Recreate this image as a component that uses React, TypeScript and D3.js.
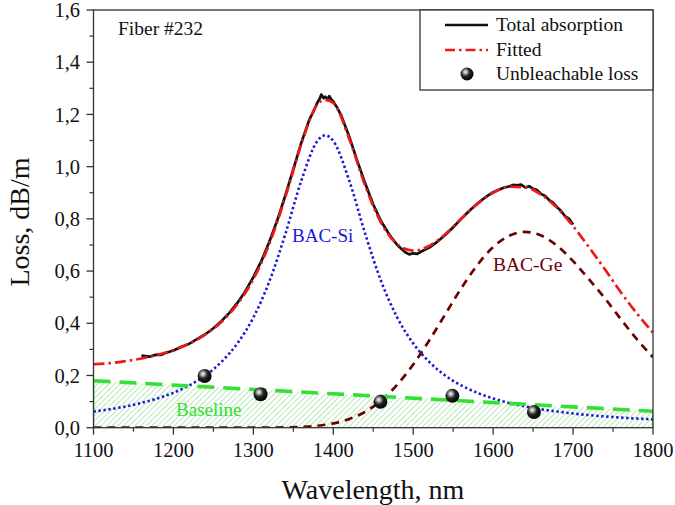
import React from "react";
import * as d3 from "d3";

// ---- data ----
const siWl = [1100, 1120, 1140, 1160, 1180, 1200, 1220, 1240, 1260, 1280, 1300, 1320, 1340, 1360, 1380, 1390, 1400, 1420, 1440, 1460, 1480, 1500, 1520, 1540, 1560, 1580, 1600, 1620, 1640, 1660, 1680, 1700, 1720, 1740, 1760, 1780, 1800];
const siValues = [0.062, 0.0705, 0.0814, 0.095, 0.112, 0.134, 0.162, 0.2, 0.252, 0.323, 0.422, 0.56, 0.742, 0.946, 1.098, 1.12, 1.098, 0.946, 0.742, 0.56, 0.422, 0.323, 0.252, 0.2, 0.162, 0.134, 0.112, 0.095, 0.0814, 0.0705, 0.062, 0.0543, 0.0482, 0.0431, 0.0387, 0.035, 0.0317];

const geWl = [1100, 1140, 1180, 1220, 1260, 1300, 1320, 1340, 1360, 1380, 1400, 1420, 1440, 1460, 1480, 1500, 1520, 1540, 1560, 1580, 1600, 1620, 1640, 1660, 1680, 1700, 1720, 1740, 1760, 1780, 1800];
const geValues = [0, 0, 0, 0, 0, 0.0001, 0.0004, 0.0011, 0.0031, 0.0075, 0.0165, 0.0332, 0.0612, 0.104, 0.165, 0.242, 0.334, 0.434, 0.534, 0.622, 0.692, 0.735, 0.75, 0.736, 0.697, 0.638, 0.568, 0.495, 0.415, 0.338, 0.27];

const fitWl = [1100, 1120, 1140, 1160, 1180, 1200, 1220, 1240, 1260, 1280, 1300, 1320, 1340, 1360, 1380, 1390, 1400, 1420, 1440, 1460, 1480, 1500, 1520, 1540, 1560, 1580, 1600, 1620, 1640, 1660, 1680, 1700, 1720, 1740, 1760, 1780, 1800];
const fitValues = [0.243, 0.247, 0.255, 0.265, 0.279, 0.297, 0.322, 0.357, 0.405, 0.473, 0.569, 0.704, 0.883, 1.086, 1.238, 1.256, 1.244, 1.106, 0.926, 0.784, 0.703, 0.678, 0.696, 0.741, 0.8, 0.856, 0.9, 0.923, 0.921, 0.893, 0.842, 0.772, 0.691, 0.606, 0.518, 0.437, 0.364];

const totalWl = [1160, 1165, 1170, 1175, 1180, 1185, 1190, 1200, 1210, 1220, 1230, 1240, 1250, 1260, 1270, 1280, 1290, 1300, 1310, 1320, 1330, 1340, 1350, 1360, 1370, 1375, 1380, 1383, 1385, 1388, 1390, 1393, 1395, 1398, 1400, 1405, 1410, 1420, 1430, 1440, 1450, 1460, 1470, 1480, 1490, 1495, 1500, 1505, 1510, 1520, 1530, 1540, 1550, 1560, 1570, 1580, 1590, 1600, 1610, 1615, 1620, 1625, 1630, 1635, 1640, 1645, 1650, 1655, 1660, 1665, 1670, 1675, 1680, 1685, 1690, 1695, 1700];
const totalValues = [0.276, 0.274, 0.272, 0.277, 0.28, 0.279, 0.286, 0.296, 0.31, 0.322, 0.34, 0.358, 0.381, 0.408, 0.44, 0.478, 0.523, 0.577, 0.638, 0.712, 0.795, 0.89, 0.99, 1.092, 1.18, 1.21, 1.245, 1.26, 1.276, 1.262, 1.268, 1.258, 1.27, 1.255, 1.25, 1.225, 1.195, 1.115, 1.022, 0.935, 0.855, 0.79, 0.74, 0.7, 0.672, 0.664, 0.668, 0.666, 0.675, 0.69, 0.712, 0.738, 0.768, 0.8, 0.83, 0.858, 0.882, 0.902, 0.915, 0.921, 0.924, 0.93, 0.928, 0.931, 0.92, 0.925, 0.915, 0.91, 0.895, 0.888, 0.872, 0.862, 0.845, 0.83, 0.81, 0.8, 0.778];

const baseWl = [1100, 1800];
const baseValues = [0.18, 0.063];

const ballWl = [1239, 1309, 1459, 1549, 1651];
const ballValues = [0.198, 0.128, 0.099, 0.122, 0.06];

const xTickValues = [1100, 1200, 1300, 1400, 1500, 1600, 1700, 1800];
const xMinorValues = [1150, 1250, 1350, 1450, 1550, 1650, 1750];
const yTickValues = [0, 0.2, 0.4, 0.6, 0.8, 1.0, 1.2, 1.4, 1.6];
const yMinorValues = [0.1, 0.3, 0.5, 0.7, 0.9, 1.1, 1.3, 1.5];

const legendLabels = ["Total absorption", "Fitted", "Unbleachable loss"];

const W = 675;
const H = 505;
const FONT = "'Liberation Serif', 'Times New Roman', serif";

type P = [number, number];
const zip = (a: number[], b: number[]): P[] => a.map((v, i) => [v, b[i]]);

export default function App() {
  const x = d3.scaleLinear().domain([1100, 1800]).range([93.5, 653]);
  const y = d3.scaleLinear().domain([0, 1.6]).range([427.7, 10]);

  const smooth = d3
    .line<P>()
    .x((d) => x(d[0]))
    .y((d) => y(d[1]))
    .curve(d3.curveMonotoneX);
  const straight = d3
    .line<P>()
    .x((d) => x(d[0]))
    .y((d) => y(d[1]));
  const area = d3
    .area<P>()
    .x((d) => x(d[0]))
    .y0(y(0))
    .y1((d) => y(d[1]));

  const [x0, x1] = x.range();
  const [yb, yt] = y.range();

  return (
    <svg
      width={W}
      height={H}
      style={{ position: "absolute", left: 0, top: 0, background: "#fff" }}
      fontFamily={FONT}
    >
      <defs>
        <pattern id="hatch" patternUnits="userSpaceOnUse" width="4" height="4" patternTransform="rotate(45)">
          <line x1="0" y1="0" x2="0" y2="4" stroke="#7ad27a" strokeWidth="1.1" />
        </pattern>
        <radialGradient id="ball" cx="38%" cy="35%" r="65%">
          <stop offset="0%" stopColor="#ffffff" />
          <stop offset="20%" stopColor="#b0b0b0" />
          <stop offset="50%" stopColor="#262626" />
          <stop offset="100%" stopColor="#000000" />
        </radialGradient>
        <clipPath id="plot">
          <rect x={x0} y={yt} width={x1 - x0} height={yb - yt} />
        </clipPath>
      </defs>

      <rect x={0} y={0} width={W} height={H} fill="#fff" />

      <g clipPath="url(#plot)">
        {/* baseline hatched area */}
        <path d={area(zip(baseWl, baseValues)) || ""} fill="url(#hatch)" stroke="none" />
        <line x1={x(1100)} x2={x(1100)} y1={y(0)} y2={y(baseValues[0])} stroke="#44dd44" strokeWidth={1.5} />
        <line x1={x(1800)} x2={x(1800)} y1={y(0)} y2={y(baseValues[1])} stroke="#44dd44" strokeWidth={2} />

        {/* BAC-Ge */}
        <path d={smooth(zip(geWl, geValues)) || ""} fill="none" stroke="#6e0000" strokeWidth={2.7} strokeDasharray="8,6" />
        {/* BAC-Si */}
        <path d={smooth(zip(siWl, siValues)) || ""} fill="none" stroke="#1a1ad6" strokeWidth={2.6} strokeDasharray="2.4,2.6" />
        {/* baseline dashed */}
        <path d={straight(zip(baseWl, baseValues)) || ""} fill="none" stroke="#33e033" strokeWidth={3.6} strokeDasharray="17,9" />
        {/* total absorption */}
        <path d={straight(zip(totalWl, totalValues)) || ""} fill="none" stroke="#111" strokeWidth={2.7} strokeLinejoin="round" />
        {/* fitted */}
        <path d={smooth(zip(fitWl, fitValues)) || ""} fill="none" stroke="#ee1a1a" strokeWidth={2.7} strokeDasharray="11,4,2.5,4" />

        {/* unbleachable loss */}
        {ballWl.map((w, i) => (
          <circle key={i} cx={x(w)} cy={y(ballValues[i])} r={7} fill="url(#ball)" />
        ))}
      </g>

      {/* frame */}
      <rect x={x0} y={yt} width={x1 - x0} height={yb - yt} fill="none" stroke="#333" strokeWidth={1.3} />

      {/* x axis ticks */}
      {xTickValues.map((t) => (
        <g key={"xt" + t}>
          <line x1={x(t)} x2={x(t)} y1={yb} y2={yb + 7} stroke="#333" strokeWidth={1.3} />
          <text x={x(t)} y={457} textAnchor="middle" fontSize={20.5} fill="#111">
            {t}
          </text>
        </g>
      ))}
      {xMinorValues.map((t) => (
        <line key={"xm" + t} x1={x(t)} x2={x(t)} y1={yb} y2={yb + 4} stroke="#333" strokeWidth={1.2} />
      ))}

      {/* y axis ticks */}
      {yTickValues.map((t) => (
        <g key={"yt" + t}>
          <line x1={x0 - 7} x2={x0} y1={y(t)} y2={y(t)} stroke="#333" strokeWidth={1.3} />
          <text x={80} y={y(t)} dy="0.35em" textAnchor="end" fontSize={20.5} fill="#111">
            {d3.format(".1f")(t).replace(".", ",")}
          </text>
        </g>
      ))}
      {yMinorValues.map((t) => (
        <line key={"ym" + t} x1={x0 - 4} x2={x0} y1={y(t)} y2={y(t)} stroke="#333" strokeWidth={1.2} />
      ))}

      {/* axis titles */}
      <text x={373} y={499} textAnchor="middle" fontSize={28} fill="#111">
        Wavelength, nm
      </text>
      <text transform="translate(29,222) rotate(-90)" textAnchor="middle" fontSize={28} fill="#111">
        Loss, dB/m
      </text>

      {/* annotations */}
      <text x={118} y={35} fontSize={19.5} fill="#111">
        Fiber #232
      </text>
      <text x={292} y={242} fontSize={19} fill="#1a1ad6">
        BAC-Si
      </text>
      <text x={493} y={271} fontSize={19.5} fill="#6e0000">
        BAC-Ge
      </text>
      <text x={176} y={416} fontSize={19} fill="#33e033">
        Baseline
      </text>

      {/* legend */}
      <rect x={420} y={yt} width={x1 - 420} height={80} fill="#fff" stroke="#333" strokeWidth={1.3} />
      <line x1={445} x2={488} y1={25} y2={25} stroke="#111" strokeWidth={2.6} />
      <line x1={445} x2={488} y1={50} y2={50} stroke="#ee1a1a" strokeWidth={2.6} strokeDasharray="10,4,2.5,4" />
      <circle cx={467} cy={74} r={6.5} fill="url(#ball)" />
      {legendLabels.map((s, i) => (
        <text key={s} x={496} y={31 + i * 24.5} fontSize={19.5} fill="#111">
          {s}
        </text>
      ))}
    </svg>
  );
}
